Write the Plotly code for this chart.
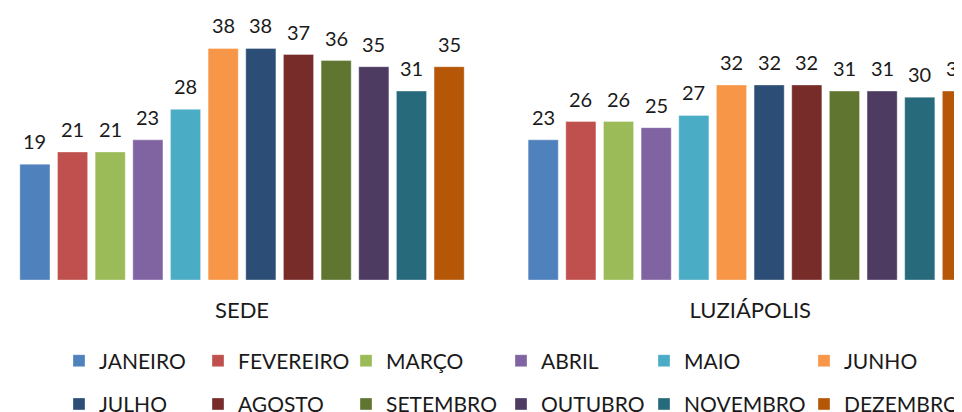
import plotly.graph_objects as go

categories = ["SEDE", "LUZIÁPOLIS"]
months = ["JANEIRO", "FEVEREIRO", "MARÇO", "ABRIL", "MAIO", "JUNHO",
          "JULHO", "AGOSTO", "SETEMBRO", "OUTUBRO", "NOVEMBRO", "DEZEMBRO"]
sede = [19, 21, 21, 23, 28, 38, 38, 37, 36, 35, 31, 35]
luziapolis = [23, 26, 26, 25, 27, 32, 32, 32, 31, 31, 30, 31]
colors = ["#4F81BD", "#C0504D", "#9BBB59", "#8064A2", "#4BACC6", "#F79646",
          "#2C4D75", "#772C2A", "#5F7530", "#4D3B62", "#276A7C", "#B65708"]

FONT = "Lato"
BARGAP = 0.111
N = len(months)
W, H = 962, 412
PLOT_H = 272  # plot area height in pixels (margin top 0)

fig = go.Figure()
for i, m in enumerate(months):
    col = i % 6
    leg = "legend" if col == 0 else f"legend{col + 1}"
    fig.add_trace(go.Bar(
        x=categories, y=[sede[i], luziapolis[i]], name=m,
        marker=dict(color=colors[i], line=dict(width=1, color="rgba(255,255,255,0.35)")),
        legend=leg, legendgroup=m,
    ))

annotations = []
for i in range(N):
    off = -(1 - BARGAP) / 2 + (i + 0.5) * (1 - BARGAP) / N
    for c, vals in enumerate([sede, luziapolis]):
        annotations.append(dict(
            x=c + off, y=vals[i], xref="x", yref="y", text=str(vals[i]),
            showarrow=False, yanchor="middle", yshift=23,
            font=dict(family=FONT, size=20, color="#1a1a1a"),
        ))

# left edge of each legend column, in figure pixels
legend_left = [51, 190, 338, 493, 636, 796]
layout_legends = {}
for col in range(6):
    key = "legend" if col == 0 else f"legend{col + 1}"
    layout_legends[key] = dict(
        x=legend_left[col] / W, xanchor="left",
        y=(PLOT_H - 332.5) / PLOT_H, yanchor="top",
        orientation="v", traceorder="grouped", tracegroupgap=13,
        font=dict(family=FONT, size=21, color="#1a1a1a"),
        bgcolor="rgba(0,0,0,0)", borderwidth=0,
    )

fig.update_layout(
    width=W, height=H,
    margin=dict(l=0, r=0, t=0, b=H - PLOT_H, autoexpand=False),
    paper_bgcolor="white", plot_bgcolor="white",
    barmode="group", bargap=BARGAP, bargroupgap=0.2,
    font=dict(family=FONT, size=20, color="#1a1a1a"),
    xaxis=dict(range=[-0.4604, 1.4322], showgrid=False, zeroline=False,
               showline=False, ticks="outside", ticklen=11,
               tickcolor="rgba(0,0,0,0)", automargin=False,
               tickfont=dict(family=FONT, size=22, color="#1a1a1a")),
    yaxis=dict(range=[0, 44.63], visible=False, showgrid=False, automargin=False),
    annotations=annotations,
    **layout_legends,
)

fig.write_html("out.html")
